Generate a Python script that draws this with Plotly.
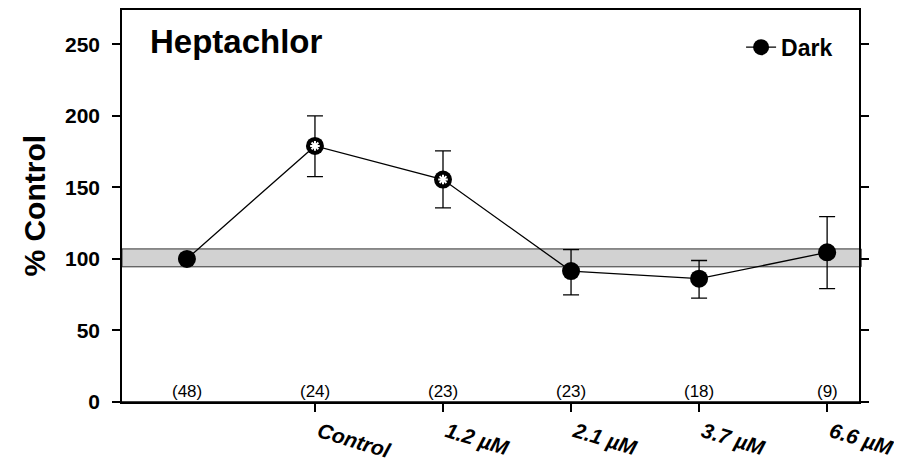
import plotly.graph_objects as go

# ---- data ----
positions = [0, 1, 2, 3, 4, 5]
tick_positions = [1, 2, 3, 4, 5]
tick_labels = ["Control", "1.2 µM", "2.1 µM", "3.7 µM", "6.6 µM"]
dark_values = [100, 179, 155.5, 91.5, 86.2, 104.6]
err_plus = [0, 21, 20, 15, 12.7, 25]
err_minus = [0, 21.4, 19.8, 16.6, 13.6, 25.3]
n_counts = [48, 24, 23, 23, 18, 9]
significant = [False, True, True, False, False, False]
band_low, band_high = 94.5, 107
series_name = "Dark"
title_text = "Heptachlor"
y_title = "% Control"
y_ticks = [0, 50, 100, 150, 200, 250]

FONT = "Liberation Sans, Arial, sans-serif"

fig = go.Figure()

fig.add_trace(go.Scatter(
    x=positions, y=dark_values, name=series_name,
    mode="lines+markers",
    line=dict(color="black", width=1.3),
    marker=dict(color="black", size=18, symbol="circle"),
    error_y=dict(type="data", symmetric=False, array=err_plus, arrayminus=err_minus,
                 color="black", thickness=1.3, width=8),
    showlegend=True,
))

# significance asterisks drawn on top of the significant points
sig_x = [xi for xi, s in zip(positions, significant) if s]
sig_y = [yi for yi, s in zip(dark_values, significant) if s]
fig.add_trace(go.Scatter(
    x=sig_x, y=sig_y, mode="markers", showlegend=False, hoverinfo="skip",
    marker=dict(symbol="asterisk-open", size=8, color="white",
                line=dict(color="white", width=2)),
))

# grey reference band
fig.add_shape(type="rect", xref="paper", yref="y", x0=0, x1=1.003,
              y0=band_low, y1=band_high, fillcolor="#d2d2d2",
              line=dict(color="#333333", width=1), layer="below")

# extended bottom axis line
fig.add_shape(type="line", xref="paper", yref="paper", x0=-0.0095, x1=1.011,
              y0=0, y1=0, line=dict(color="black", width=1.5))

annotations = []
for xi, n in zip(positions, n_counts):
    annotations.append(dict(x=xi, y=0, xref="x", yref="y", text=f"({n})",
                            showarrow=False, yanchor="bottom", yshift=-1,
                            font=dict(family=FONT, size=17, color="black")))
annotations.append(dict(x=0.0353, y=0.92, xref="paper", yref="paper", text=title_text,
                        showarrow=False, xanchor="left", yanchor="middle",
                        font=dict(family=FONT, size=33, color="black", weight="bold")))
annotations.append(dict(x=-0.12, y=0.5, xref="paper", yref="paper", text=y_title,
                        showarrow=False, xanchor="center", yanchor="middle", textangle=-90,
                        font=dict(family=FONT, size=30, color="black", weight="bold")))

fig.update_layout(
    width=894, height=454,
    margin=dict(l=114, r=43, t=0, b=58),
    paper_bgcolor="white", plot_bgcolor="white",
    font=dict(family=FONT, color="black"),
    annotations=annotations,
    showlegend=True,
    legend=dict(x=0.84, y=0.905, xanchor="left", yanchor="middle",
                bgcolor="rgba(0,0,0,0)", borderwidth=0,
                font=dict(family=FONT, size=23, color="black", weight="bold")),
    xaxis=dict(range=[-0.507, 5.249], tickmode="array", tickvals=tick_positions,
               ticktext=tick_labels, tickangle=17, ticks="outside", ticklen=8,
               tickwidth=1.5, tickcolor="black", showline=True, linecolor="black",
               linewidth=1.5, mirror=True, showgrid=False, zeroline=False,
               ticklabelshift=4,
               tickfont=dict(family=FONT, size=21, color="black", weight="bold", style="italic")),
    yaxis=dict(range=[0, 274], tickmode="array", tickvals=y_ticks, ticks="outside",
               ticklen=8, tickwidth=1.5, tickcolor="black", showline=True,
               linecolor="black", linewidth=1.5, mirror="ticks", showgrid=False,
               zeroline=False, ticklabelstandoff=8,
               tickfont=dict(family=FONT, size=21, color="black", weight="bold")),
)

fig.write_html("out.html")
